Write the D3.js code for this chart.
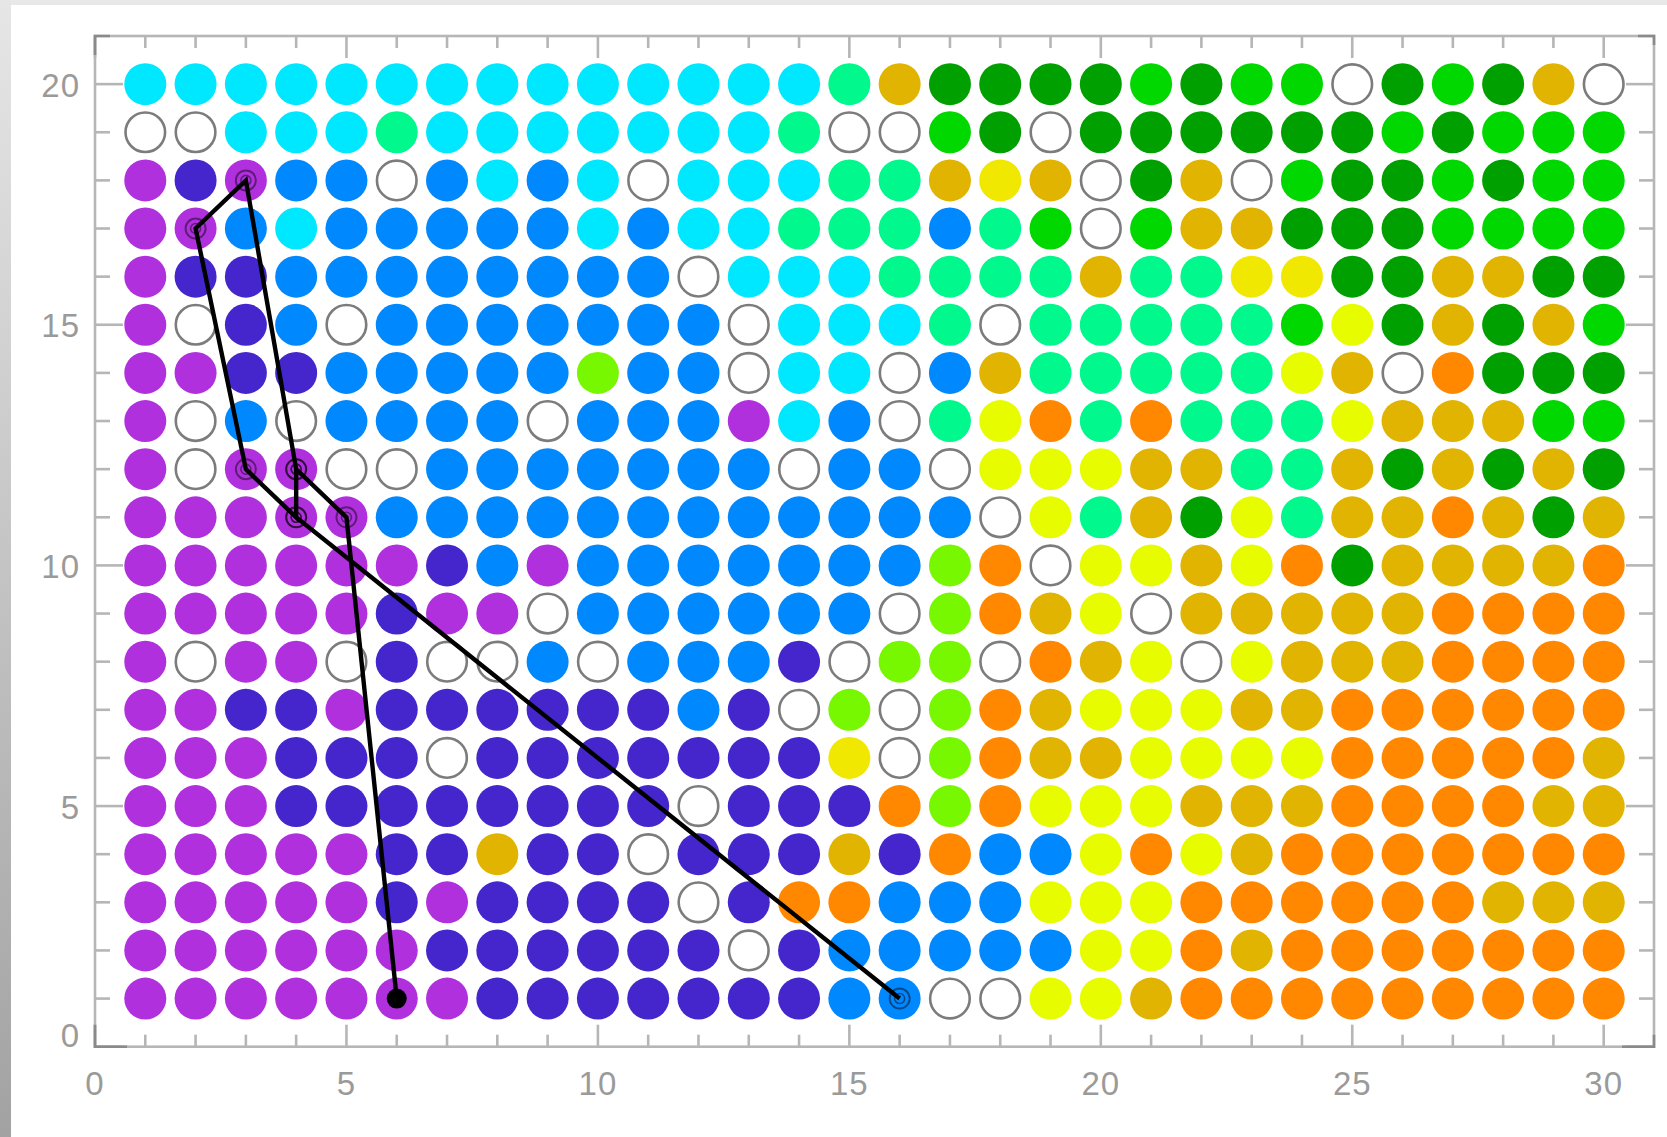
<!DOCTYPE html>
<html>
<head>
<meta charset="utf-8">
<script src="https://cdn.jsdelivr.net/npm/d3@7"></script>
<style>
  html, body { margin: 0; padding: 0; background: #ffffff; }
  svg { display: block; }
</style>
</head>
<body>
<script>
// Class codes used in the grid rows, and the fill for each class ("W" = no data, drawn hollow)
const classCodes  = ["P", "I", "B", "C", "S", "L", "G", "D", "Z", "Y", "O", "R", "W"];
const classColors = ["#b030de", "#4426cc", "#0088ff", "#00e8ff", "#00f88c", "#78f800",
                     "#00d800", "#00a000", "#e8fc00", "#f0e800", "#e0b400", "#ff8800", "#ffffff"];

// One string per grid row, from y = 20 (top) down to y = 1; one letter per column x = 1..30
const gridRowsY = [20, 19, 18, 17, 16, 15, 14, 13, 12, 11, 10, 9, 8, 7, 6, 5, 4, 3, 2, 1];
const gridRows = [
  "CCCCCCCCCCCCCCSODDDDGDGGWDGDOW",
  "WWCCCSCCCCCCCSWWGDWDDDDDDGDGGG",
  "PIPBBWBCBCWCCCSSOYOWDOWGDDGDGG",
  "PPBCBBBBBCBCCSSSBSGWGOODDDGGGG",
  "PIIBBBBBBBBWCCCSSSSOSSYYDDOODD",
  "PWIBWBBBBBBBWCCCSWSSSSSGZDODOG",
  "PPIIBBBBBLBBWCCWBOSSSSSZOWRDDD",
  "PWBWBBBBWBBBPCBWSZRSRSSSZOOOGG",
  "PWPPWWBBBBBBBWBBWZZZOOSSODODOD",
  "PPPPPBBBBBBBBBBBBWZSODZSOORODO",
  "PPPPPPIBPBBBBBBBLRWZZOZRDOOOOR",
  "PPPPPIPPWBBBBBBWLROZWOOOOORRRR",
  "PWPPWIWWBWBBBIWLLWROZWZOOORRRR",
  "PPIIPIIIIIIBIWLWLROZZZOORRRRRR",
  "PPPIIIWIIIIIIIYWLROOZZZZRRRRRO",
  "PPPIIIIIIIIWIIIRLRZZZOOORRRROO",
  "PPPPPIIOIIWIIIOIRBBZRZORRRRRRR",
  "PPPPPIPIIIIWIRRBBBZZZRRRRRROOO",
  "PPPPPPIIIIIIWIBBBBBZZRORRRRRRR",
  "PPPPPPPIIIIIIIBBWWZZORRRRRRRRR"
];

// Track drawn over the grid (vertices in visiting order; the first is the start point)
const trackX = [6, 5, 4, 4, 3, 2, 3, 4, 4, 16];
const trackY = [1, 11, 12, 11, 12, 17, 18, 12, 11, 1];

// Axis ticks and labels
const xMajorTicks = [0, 5, 10, 15, 20, 25, 30];
const yMajorTicks = [0, 5, 10, 15, 20];
const xMinorTicks = d3.range(0, 31);
const yMinorTicks = d3.range(0, 21);

const W = 1667, H = 1137;
const svg = d3.select("body").append("svg").attr("width", W).attr("height", H);

// page background with the light grey border strips
const defs = svg.append("defs");
const grad = defs.append("linearGradient").attr("id", "edgeGrad")
  .attr("x1", 0).attr("y1", 0).attr("x2", 0).attr("y2", 1);
grad.append("stop").attr("offset", "0%").attr("stop-color", "#e6e6e6");
grad.append("stop").attr("offset", "100%").attr("stop-color", "#a2a2a2");

svg.append("rect").attr("width", W).attr("height", H).attr("fill", "#ffffff");
svg.append("rect").attr("x", 0).attr("y", 0).attr("width", W).attr("height", 5).attr("fill", "#e8e8e8");
svg.append("rect").attr("x", 0).attr("y", 0).attr("width", 11).attr("height", H).attr("fill", "url(#edgeGrad)");

// plot frame
const plotLeft = 95, plotRight = 1654, plotTop = 36, plotBottom = 1046.7;
const x = d3.scaleLinear().domain([0, 31]).range([plotLeft, plotRight]);
const y = d3.scaleLinear().domain([0, 21]).range([plotBottom, plotTop]);

const frameColor = "#b6b6b6";
const axisG = svg.append("g");

// tick marks on all four sides, pointing inwards
function drawTicks(values, len, side) {
  axisG.selectAll(null).data(values).enter().append("line")
    .attr("stroke", frameColor).attr("stroke-width", 2.6)
    .each(function (v) {
      const s = d3.select(this);
      if (side === "bottom") s.attr("x1", x(v)).attr("x2", x(v)).attr("y1", plotBottom).attr("y2", plotBottom - len);
      if (side === "top")    s.attr("x1", x(v)).attr("x2", x(v)).attr("y1", plotTop).attr("y2", plotTop + len);
      if (side === "left")   s.attr("y1", y(v)).attr("y2", y(v)).attr("x1", plotLeft).attr("x2", plotLeft + len);
      if (side === "right")  s.attr("y1", y(v)).attr("y2", y(v)).attr("x1", plotRight).attr("x2", plotRight - len);
    });
}
drawTicks(xMinorTicks.filter(v => v % 5 !== 0), 12, "bottom");
drawTicks(xMinorTicks.filter(v => v % 5 !== 0), 12, "top");
drawTicks(xMajorTicks, 22, "bottom");
drawTicks(xMajorTicks, 22, "top");
drawTicks(yMinorTicks.filter(v => v % 5 !== 0), 15, "left");
drawTicks(yMinorTicks.filter(v => v % 5 !== 0), 15, "right");
drawTicks(yMajorTicks, 28, "left");
drawTicks(yMajorTicks, 28, "right");

axisG.append("rect")
  .attr("x", plotLeft).attr("y", plotTop)
  .attr("width", plotRight - plotLeft).attr("height", plotBottom - plotTop)
  .attr("fill", "none").attr("stroke", frameColor).attr("stroke-width", 2.6);

// darker corner pieces of the frame
const cornerPaths = [
  [[plotLeft, plotTop + 19], [plotLeft, plotTop], [plotLeft + 15, plotTop]],
  [[plotRight - 16, plotTop], [plotRight, plotTop], [plotRight, plotTop + 9]],
  [[plotLeft, plotBottom - 22], [plotLeft, plotBottom], [plotLeft + 32, plotBottom]],
  [[plotRight - 32, plotBottom], [plotRight, plotBottom], [plotRight, plotBottom - 12]]
];
axisG.selectAll(null).data(cornerPaths).enter().append("path")
  .attr("d", d => d3.line()(d)).attr("fill", "none")
  .attr("stroke", "#8a8a8a").attr("stroke-width", 2.6);

// tick labels
const labelFont = "'Liberation Sans', Arial, sans-serif";
svg.append("g").selectAll("text").data(xMajorTicks).enter().append("text")
  .attr("x", d => x(d)).attr("y", 1095)
  .attr("text-anchor", "middle")
  .attr("font-family", labelFont).attr("font-size", 33)
  .attr("letter-spacing", 1)
  .attr("fill", "#9a9a9a")
  .text(d => d);

svg.append("g").selectAll("text").data(yMajorTicks).enter().append("text")
  .attr("x", 80).attr("y", d => d === 0 ? plotBottom : y(d) + 12.5)
  .attr("text-anchor", "end")
  .attr("font-family", labelFont).attr("font-size", 33)
  .attr("letter-spacing", 1)
  .attr("fill", "#9a9a9a")
  .text(d => d);

// grid of class circles
const color = d3.scaleOrdinal().domain(classCodes).range(classColors);
const cells = [];
gridRows.forEach((row, i) => {
  row.split("").forEach((code, j) => {
    cells.push({ col: j + 1, row: gridRowsY[i], code });
  });
});

const cellG = svg.append("g");
cellG.selectAll("circle").data(cells).enter().append("circle")
  .attr("cx", d => x(d.col))
  .attr("cy", d => y(d.row))
  .attr("r", d => d.code === "W" ? 19.8 : 21)
  .attr("fill", d => color(d.code))
  .attr("stroke", d => d.code === "W" ? "#7c7c7c" : "none")
  .attr("stroke-width", d => d.code === "W" ? 2.6 : 0);

// the track and its vertex markers
const track = trackX.map((v, i) => [x(v), y(trackY[i])]);
svg.append("path")
  .attr("d", d3.line()(track))
  .attr("fill", "none").attr("stroke", "#000000")
  .attr("stroke-width", 4.4).attr("stroke-linejoin", "miter");

const markerG = svg.append("g");
const vertices = track.slice(1);
markerG.selectAll(".outer").data(vertices).enter().append("circle")
  .attr("cx", d => d[0]).attr("cy", d => d[1]).attr("r", 10)
  .attr("fill", "none").attr("stroke", "#000").attr("stroke-opacity", 0.45).attr("stroke-width", 2);
markerG.selectAll(".inner").data(vertices).enter().append("circle")
  .attr("cx", d => d[0]).attr("cy", d => d[1]).attr("r", 5)
  .attr("fill", "none").attr("stroke", "#000").attr("stroke-opacity", 0.45).attr("stroke-width", 1.6);

markerG.append("circle")
  .attr("cx", track[0][0]).attr("cy", track[0][1]).attr("r", 10)
  .attr("fill", "#000000");
</script>
</body>
</html>
